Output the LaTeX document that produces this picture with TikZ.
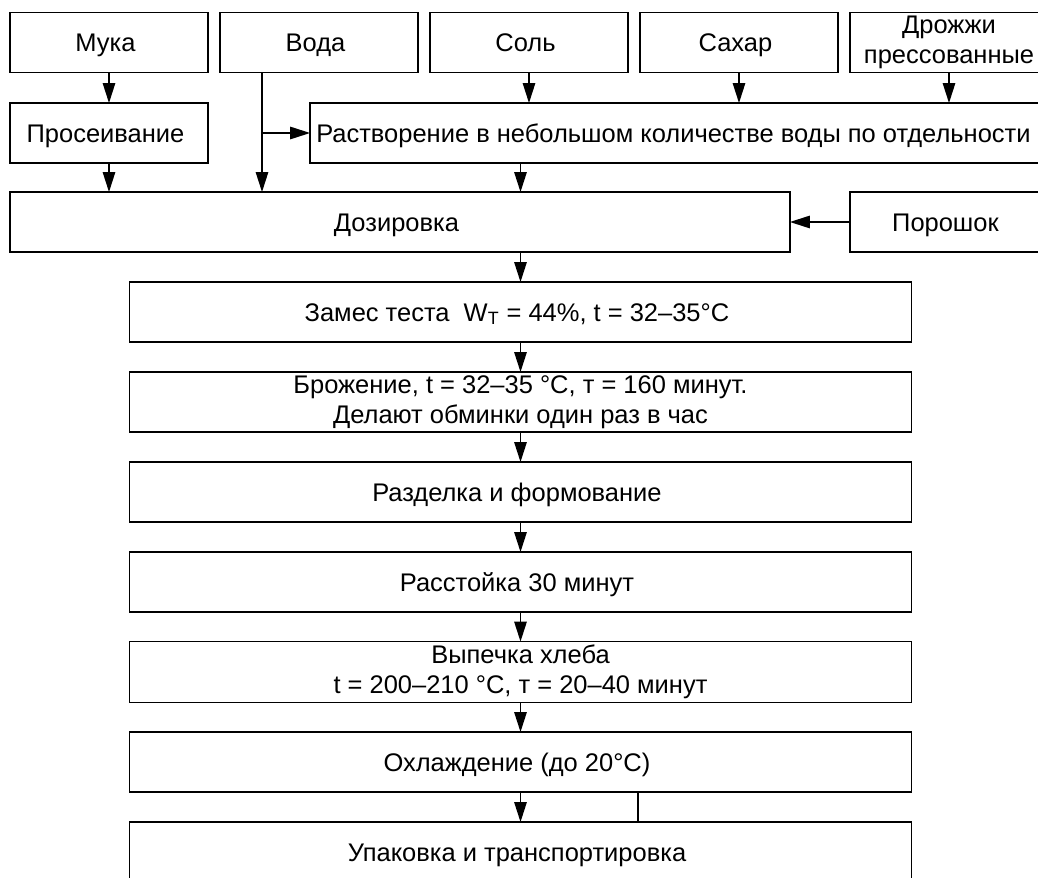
\documentclass[tikz,border=0pt]{standalone}
\usepackage{fontspec}
\setmainfont{Liberation Sans}
\usetikzlibrary{arrows.meta}

\begin{document}
\begin{tikzpicture}[ x=0.02cm, y=-0.02cm, line width=0.8pt,
	blok/.style={ draw, inner sep=2pt, outer sep=0pt, align=center, minimum height=1.2cm, font=\fontsize{14.5}{17}\selectfont },
	jeden/.style={ text height=10.4pt, text depth=0pt },
	maly/.style={ blok, minimum width=3.96cm },
	hlavni/.style={ blok, minimum width=15.64cm },
	sipka/.style={ -{Triangle[length=0.4cm,width=0.25cm]} } ]
	  \clip (0,0) rectangle (1038,878);

	  % suroviny
	  \node [ maly, jeden ] (muka) at (109,42.5) { Мука };
	  \node [ maly, jeden ] (voda) at (319,42.5) { Вода };
	  \node [ maly, jeden ] (sol) at (529,42.5) { Соль };
	  \node [ maly, jeden ] (sahar) at (739,42.5) { Сахар };
	  \node [ maly ] (drozhzhi) at (949,42.5) { Дрожжи\\прессованные };

	  \node [ maly, jeden ] (proseiv) at (109,133) { Просеивание };
	  \node [ blok, jeden, minimum width=14.68cm ] (rastvor) at (677,133) { Растворение в небольшом количестве воды по отдельности };
	  \node [ blok, jeden, minimum width=15.6cm ] (doz) at (400,222) { Дозировка };
	  \node [ maly, jeden ] (poroshok) at (949,222) { Порошок };

	  % hlavni linka
	  \node [ hlavni, jeden ] (zames) at (520.5,312) { Замес теста\ \ W\textsubscript{T} = 44\%, t = 32–35°C };
	  \node [ hlavni ] (brozh) at (520.5,402) { Брожение, t = 32–35 °C, т = 160 минут.\\Делают обминки один раз в час };
	  \node [ hlavni, jeden ] (razd) at (520.5,492) { Разделка и формование };
	  \node [ hlavni, jeden ] (rasst) at (520.5,582) { Расстойка 30 минут };
	  \node [ hlavni ] (vypech) at (520.5,672) { Выпечка хлеба\\t = 200–210 °C, т = 20–40 минут };
	  \node [ hlavni, jeden ] (ohlazh) at (520.5,762) { Охлаждение (до 20°C) };
	  \node [ hlavni, jeden ] (upak) at (520.5,852) { Упаковка и транспортировка };

	  \coordinate (vodalinka) at (262,133);
	  \coordinate (cara) at (638,807);

	  \draw [ sipka ] (muka) -- (proseiv);
	  \draw [ sipka ] (proseiv) -- (proseiv |- doz.north);
	  \draw [ sipka ] (voda.south -| vodalinka) -- (doz.north -| vodalinka);
	  \draw [ sipka ] (vodalinka) -- (rastvor.west);
	  \draw [ sipka ] (sol) -- (sol |- rastvor.north);
	  \draw [ sipka ] (sahar) -- (sahar |- rastvor.north);
	  \draw [ sipka ] (drozhzhi) -- (drozhzhi |- rastvor.north);
	  \draw [ sipka ] (rastvor.south -| zames) -- (doz.north -| zames);
	  \draw [ sipka ] (poroshok) -- (doz);

	  \draw [ sipka ] (doz.south -| zames) -- (zames);
	  \draw [ sipka ] (zames) -- (brozh);
	  \draw [ sipka ] (brozh) -- (razd);
	  \draw [ sipka ] (razd) -- (rasst);
	  \draw [ sipka ] (rasst) -- (vypech);
	  \draw [ sipka ] (vypech) -- (ohlazh);
	  \draw [ sipka ] (ohlazh) -- (upak);
	  \draw (ohlazh.south -| cara) -- (upak.north -| cara);
	\end{tikzpicture}
\end{document}
